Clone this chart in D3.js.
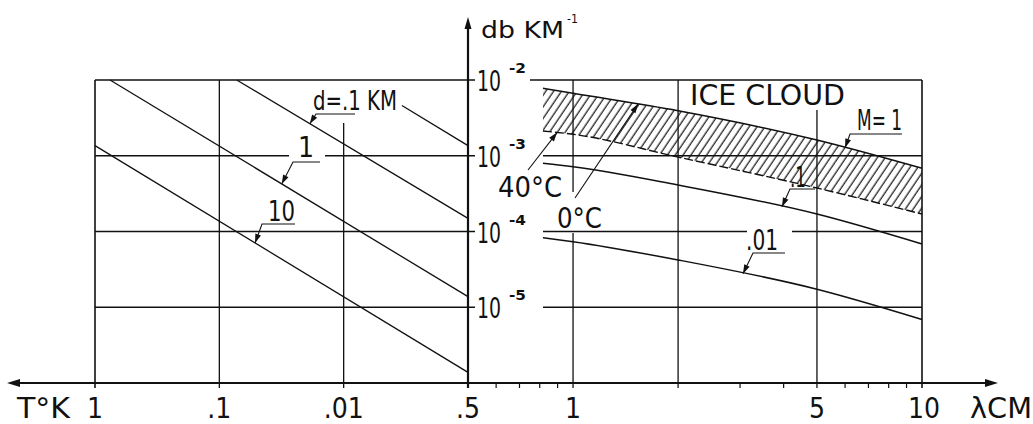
<!DOCTYPE html>
<html>
<head>
<meta charset="utf-8">
<script src="https://cdn.jsdelivr.net/npm/d3@7"></script>
<style>
body { margin: 0; background: #fff; }
text { font-family: 'Liberation Sans Narrow', 'DejaVu Sans Condensed', sans-serif; fill: #111; }
</style>
</head>
<body>
<div id="chart"></div>
<script>
// axis ticks
let tTicks = [1, 0.1, 0.01];
let tTickLabels = ['1', '.1', '.01'];
let lamTicks = [0.5, 1, 5, 10];
let lamTickLabels = ['.5', '1', '5', '10'];
let lamGrid = [1, 2, 5, 10];
let lamMinor = [0.6, 0.7, 0.8, 0.9, 3, 4, 6, 7, 8, 9];
let dbTicks = [1e-2, 1e-3, 1e-4, 1e-5];
let dbExp = ['-2', '-3', '-4', '-5'];

// left part, straight lines: [T, db/km]
let lineD01 = [[0.0725, 1e-2], [0.001, 1.49e-4]];
let lineD1 = [[0.757, 1e-2], [0.001, 1.38e-5]];
let lineD10 = [[1, 1.36e-3], [0.001, 1.38e-6]];
let lineD001 = [[0.0034, 4.6e-3], [0.001, 1.36e-3]];

// right part, ice cloud: wavelength in cm, db/km
let lam = [0.82, 1, 2, 5, 10];
let ice0C = [7.77e-3, 6.67e-3, 3.93e-3, 1.61e-3, 6.82e-4];
let ice40C = [2.12e-3, 1.92e-3, 9.6e-4, 3.75e-4, 1.70e-4];
let iceM01 = [7.94e-4, 7.16e-4, 4.11e-4, 1.70e-4, 6.84e-5];
let iceM001 = [8.28e-5, 7.33e-5, 4.21e-5, 1.73e-5, 6.9e-6];

let ink = '#111';
let width = 1033, height = 424;

let svg = d3.select('#chart').append('svg')
	.attr('width', width)
	.attr('height', height)
	.style('background', '#fff');

let xT = d3.scaleLog().domain([1, 0.001]).range([95, 468]);
let xL = d3.scaleLog().domain([0.5, 10]).range([468, 922]);
let y = d3.scaleLog().domain([1e-2, 1e-6]).range([80, 383]);

let axisX = xL(0.5);	// vertical axis
let axisY = y(1e-6);	// horizontal axis

function seg(x1, y1, x2, y2, w) {
	svg.append('line')
		.attr('x1', x1).attr('y1', y1)
		.attr('x2', x2).attr('y2', y2)
		.attr('stroke', ink)
		.attr('stroke-width', w || 1.3);
}

function arrow(x1, y1, x2, y2, len, w) {	// filled head at x2,y2
	let a = Math.atan2(y2 - y1, x2 - x1);
	let bx = x2 - len * Math.cos(a), by = y2 - len * Math.sin(a);
	let px = -Math.sin(a) * w, py = Math.cos(a) * w;
	svg.append('path')
		.attr('d', `M${x2},${y2}L${bx + px},${by + py}L${bx - px},${by - py}Z`)
		.attr('fill', ink);
}

function label(txt, x, yy, size, len, anchor) {
	let t = svg.append('text')
		.attr('x', x).attr('y', yy)
		.attr('text-anchor', anchor || 'start')
		.style('font-size', size + 'px')
		.text(txt);
	if (len) t.attr('textLength', len).attr('lengthAdjust', 'spacingAndGlyphs');
	return t;
}

// value on a log-log polyline
function valAt(xs, ys, x) {
	for (let i = 0; i < xs.length - 1; i++) {
		let lo = Math.min(xs[i], xs[i + 1]), hi = Math.max(xs[i], xs[i + 1]);
		if (x >= lo && x <= hi) {
			let t = (Math.log10(x) - Math.log10(xs[i])) / (Math.log10(xs[i + 1]) - Math.log10(xs[i]));
			return Math.pow(10, Math.log10(ys[i]) + t * (Math.log10(ys[i + 1]) - Math.log10(ys[i])));
		}
	}
	return ys[0];
}

function leader(pts, tip) {
	svg.append('path')
		.attr('d', d3.line()(pts.concat([tip])))
		.attr('fill', 'none')
		.attr('stroke', ink)
		.attr('stroke-width', 1.1);
	let p = pts[pts.length - 1];
	arrow(p[0], p[1], tip[0], tip[1], 9, 3);
}

// ---- grid, left part
dbTicks.forEach((v) => {
	if (v == 1e-3) {	// broken for the "1" label
		seg(xT(1), y(v), 289, y(v));
		seg(325, y(v), axisX + 7, y(v));
	} else {
		seg(xT(1), y(v), axisX + 7, y(v), v == 1e-2 ? 1.6 : 1.3);
	}
});
tTicks.forEach((t) => {
	let top = t == 0.01 ? 123 : y(1e-2);
	seg(xT(t), top, xT(t), axisY + 5, t == 1 ? 1.6 : 1.3);
});

// ---- grid, right part
dbTicks.forEach((v) => {
	let x0 = v == 1e-2 ? 530 : 543;
	if (v == 1e-4) {	// broken for the ".01" label
		seg(x0, y(v), 747, y(v));
		seg(792, y(v), xL(10), y(v));
	} else {
		seg(x0, y(v), xL(10), y(v), v == 1e-2 ? 1.6 : 1.3);
	}
});
lamGrid.forEach((l) => {
	let x = xL(l);
	if (l == 1) {
		seg(x, y(1e-2), x, 192);
		seg(x, 233, x, axisY + 5);
	} else if (l == 5) {
		seg(x, 110, x, axisY + 5);
	} else {
		seg(x, y(1e-2), x, axisY + 5, l == 10 ? 1.6 : 1.3);
	}
});

// minor ticks on the wavelength axis
let minor = svg.append('g')
	.attr('transform', `translate(0,${axisY})`)
	.call(d3.axisBottom(xL).tickValues(lamMinor).tickSize(5).tickFormat(''));
minor.select('.domain').remove();
minor.selectAll('line').attr('stroke', ink).attr('stroke-width', 1.2);

// ---- main axes
seg(10, axisY, 995, axisY, 2.2);
arrow(30, axisY, 7, axisY, 13, 4);
arrow(980, axisY, 998, axisY, 13, 4);
seg(axisX, 24, axisX, axisY + 5, 2.2);
arrow(axisX, 40, axisX, 17, 12, 3.5);

// ---- left lines
let lineT = d3.line().x(d => xT(d[0])).y(d => y(d[1]));
[lineD01, lineD1, lineD10, lineD001].forEach((ln) => {
	svg.append('path')
		.attr('d', lineT(ln))
		.attr('fill', 'none')
		.attr('stroke', ink)
		.attr('stroke-width', 1.3);
});

// ---- ice cloud band (hatched)
let defs = svg.append('defs');
let pat = defs.append('pattern')
	.attr('id', 'hatch')
	.attr('patternUnits', 'userSpaceOnUse')
	.attr('width', 6.5)
	.attr('height', 20)
	.attr('patternTransform', 'rotate(34)');
pat.append('line')
	.attr('x1', 3).attr('y1', 0)
	.attr('x2', 3).attr('y2', 20)
	.attr('stroke', ink)
	.attr('stroke-width', 1.2);

let band = d3.area()
	.x((d, i) => xL(lam[i]))
	.y0(d => y(d[1]))
	.y1(d => y(d[0]))
	.curve(d3.curveMonotoneX);
svg.append('path')
	.attr('d', band(d3.zip(ice0C, ice40C)))
	.attr('fill', 'url(#hatch)');

let lineL = d3.line()
	.x((d, i) => xL(lam[i]))
	.y(d => y(d))
	.curve(d3.curveMonotoneX);

svg.append('path').attr('d', lineL(ice0C))
	.attr('fill', 'none').attr('stroke', ink).attr('stroke-width', 1.5);
svg.append('path').attr('d', lineL(ice40C))
	.attr('fill', 'none').attr('stroke', ink).attr('stroke-width', 1.4)
	.attr('stroke-dasharray', '9,3');
svg.append('path').attr('d', lineL(iceM01))
	.attr('fill', 'none').attr('stroke', ink).attr('stroke-width', 1.5);
svg.append('path').attr('d', lineL(iceM001))
	.attr('fill', 'none').attr('stroke', ink).attr('stroke-width', 1.5);

// ---- tick labels
tTicks.forEach((t, i) => label(tTickLabels[i], xT(t), 418, 28, null, 'middle'));
lamTicks.forEach((l, i) => label(lamTickLabels[i], xL(l) + (l == 10 ? 2 : 0), 418, 28, null, 'middle'));
label('T°K', 17, 418, 28, 53);
label('λCM', 970, 418, 28, 62);

dbTicks.forEach((v, i) => {
	label('10', 477, y(v) + 11, 28, 24);
	label(dbExp[i], 509, y(v) - 7, 14, 17).style('font-weight', 'bold');
});
label('db KM', 481, 38, 23, 83);
label('-1', 567, 23, 13, 11);

// ---- annotations, left
let pD01 = lineD01.map(d => d[0]), vD01 = lineD01.map(d => d[1]);
let pD1 = lineD1.map(d => d[0]), vD1 = lineD1.map(d => d[1]);
let pD10 = lineD10.map(d => d[0]), vD10 = lineD10.map(d => d[1]);

label('d=.1 KM', 313, 110, 26, 84);
leader([[355, 114], [316, 114]], [xT(0.0187), y(valAt(pD01, vD01, 0.0187))]);

label('1', 306, 157, 28, null, 'middle');
leader([[320, 162], [293, 162]], [xT(0.0315), y(valAt(pD1, vD1, 0.0315))]);

label('10', 268, 221, 28, 27);
leader([[295, 224], [262, 224]], [xT(0.0516), y(valAt(pD10, vD10, 0.0516))]);

// ---- annotations, right
label('ICE  CLOUD', 690, 105, 28, 155);

label('M= 1', 857, 130, 28, 45);
leader([[902, 134], [850, 134]], [xL(6.02), y(valAt(lam, ice0C, 6.02))]);

label('.1', 790, 187, 28, 16);
leader([[815, 189], [790, 189]], [xL(3.97), y(valAt(lam, iceM01, 3.97))]);

label('.01', 746, 250, 28, 32);
leader([[785, 253], [753, 253]], [xL(3.07), y(valAt(lam, iceM001, 3.07))]);

label('40°C', 498, 197, 28, 64);
leader([[528, 170]], [xL(0.9), y(valAt(lam, ice40C, 0.9))]);

label('0°C', 557, 228, 28, 45);
leader([[575, 198]], [xL(1.535), y(valAt(lam, ice0C, 1.535))]);
</script>
</body>
</html>
